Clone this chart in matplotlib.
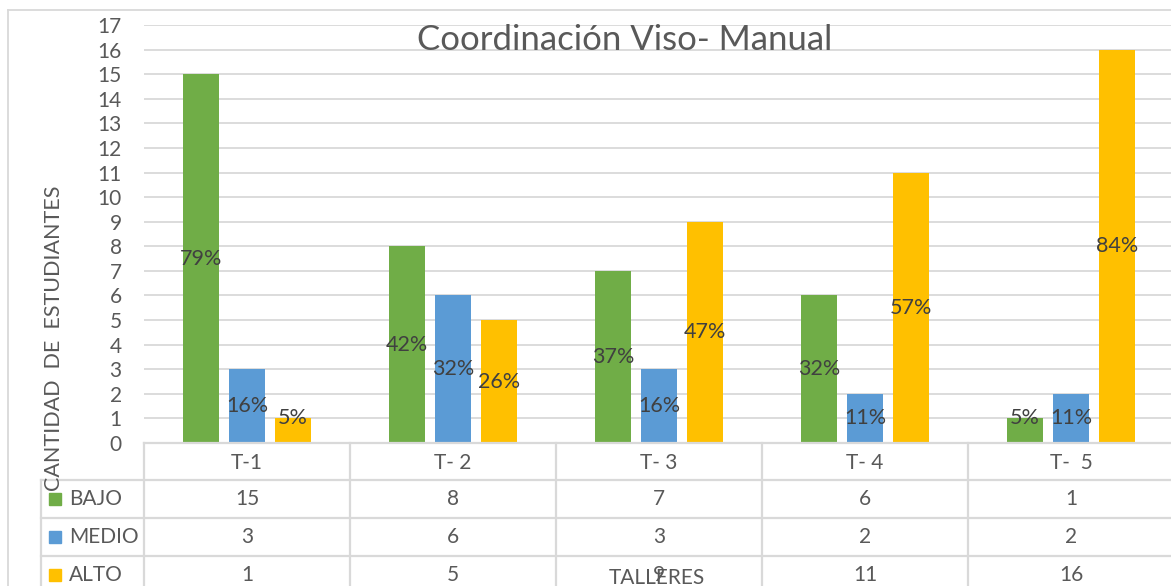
import numpy as np
import matplotlib
matplotlib.use("Agg")
import matplotlib.pyplot as plt
import matplotlib.transforms as mtransforms
from matplotlib.patches import Rectangle
from matplotlib.lines import Line2D

plt.rcParams['font.family'] = ['Lato', 'DejaVu Sans']

# data
talleres = ['T-1', 'T- 2', 'T- 3', 'T- 4', 'T-  5']
niveles = ['BAJO', 'MEDIO', 'ALTO']
bajo = [15, 8, 7, 6, 1]
medio = [3, 6, 3, 2, 2]
alto = [1, 5, 9, 11, 16]
pct_bajo = ['79%', '42%', '37%', '32%', '5%']
pct_medio = ['16%', '32%', '16%', '11%', '11%']
pct_alto = ['5%', '26%', '47%', '57%', '84%']

colores = ['#70AD47', '#5B9BD5', '#FFC000']
gris = '#595959'
linea = '#D9D9D9'

W, H = 1171, 586
fig = plt.figure(figsize=(W / 100, H / 100), dpi=100)

def fx(px):
    return px / W

def fy(py):
    return 1 - py / H

# plot area
ax = fig.add_axes([fx(144), fy(443), fx(1174 - 144), fy(25) - fy(443)])
ax.set_xlim(-0.5, 4.5)
ax.set_ylim(0, 17)
ax.set_yticks(range(0, 18))
ax.yaxis.grid(True, color=linea, lw=1.3)
ax.set_axisbelow(True)
for s in ax.spines.values():
    s.set_visible(False)
ax.tick_params(axis='y', length=0, labelsize=15, labelcolor=gris, pad=16)
ax.tick_params(axis='x', length=0, labelbottom=False)

x = np.arange(len(talleres))
ancho = 0.175
paso = 0.223
series = [bajo, medio, alto]
pcts = [pct_bajo, pct_medio, pct_alto]
for i, (vals, labs) in enumerate(zip(series, pcts)):
    xs = x + (i - 1) * paso
    ax.bar(xs, vals, width=ancho, color=colores[i], zorder=2)
    for xi, v, lab in zip(xs, vals, labs):
        ax.text(xi, max(v / 2, 1), lab, ha='center', va='center',
                fontsize=15.5, color='#404040', zorder=3)

# chart title (drawn over gridlines)
fig.text(fx(625), fy(40), 'Coordinación Viso- Manual', ha='center',
         va='center', fontsize=25, color=gris)

# chart border
fig.add_artist(Line2D([fx(8), fx(8)], [fy(10), 0], color=linea, lw=1.3))
fig.add_artist(Line2D([fx(8), 1], [fy(10), fy(10)], color=linea, lw=1.3))

# data table
filas_y = [443, 480, 518, 556, 594]
bordes_x = [144 + k * 206 for k in range(6)]
trans = mtransforms.blended_transform_factory(ax.transData, fig.transFigure)
for k, yy in enumerate(filas_y):
    x0 = 144 if k == 0 else 41
    fig.add_artist(Line2D([fx(x0), 1], [fy(yy), fy(yy)], color=linea, lw=1.6))
for bx in bordes_x:
    fig.add_artist(Line2D([fx(bx), fx(bx)], [fy(443), 0], color=linea, lw=1.6))
fig.add_artist(Line2D([fx(41), fx(41)], [fy(480), 0], color=linea, lw=1.6))

for j, t in enumerate(talleres):
    fig.text(x[j], fy(463), t, transform=trans, ha='center', va='center',
             fontsize=15, color=gris)
for i, (nombre, vals) in enumerate(zip(niveles, series)):
    yc = (filas_y[i + 1] + filas_y[i + 2]) / 2
    fig.add_artist(Rectangle((fx(49), fy(yc + 6)), fx(12), fy(yc - 6) - fy(yc + 6),
                             color=colores[i]))
    fig.text(fx(69), fy(yc), nombre, ha='left', va='center', fontsize=15, color=gris)
    for j, v in enumerate(vals):
        fig.text(x[j], fy(yc), str(v), transform=trans, ha='center', va='center',
                 fontsize=15, color=gris)

# axis titles
fig.text(fx(54), fy(338), 'CANTIDAD  DE  ESTUDIANTES', rotation=90, ha='center',
         va='center', fontsize=15.5, color=gris)
fig.text(fx(657), fy(578), 'TALLERES', ha='center', va='center', fontsize=15,
         color=gris)

fig.savefig('out.png', dpi=100)
